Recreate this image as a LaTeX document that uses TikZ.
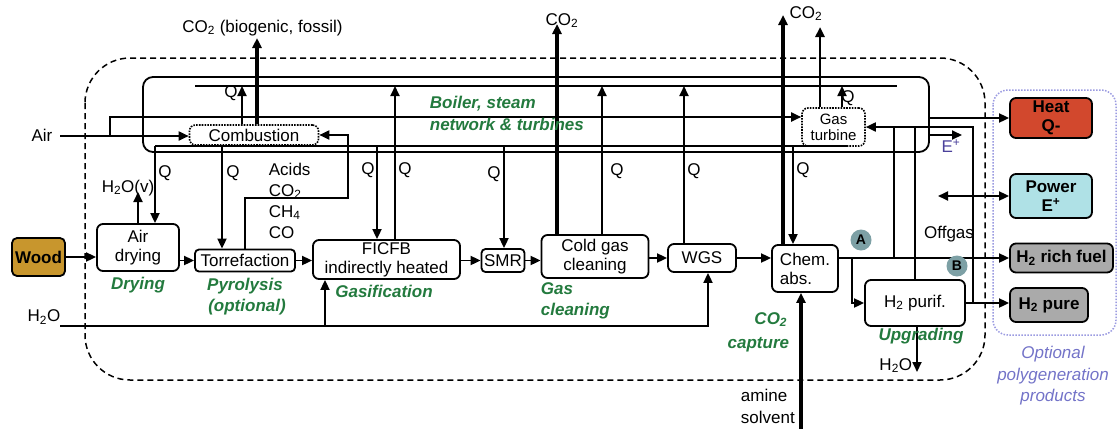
\documentclass[tikz,border=0pt]{standalone}
\usepackage{fontspec}
\setmainfont{Liberation Sans}
\usetikzlibrary{arrows.meta,calc}
\definecolor{grn}{RGB}{35,122,62}
\definecolor{woodc}{RGB}{200,150,45}
\definecolor{heatc}{RGB}{210,72,45}
\definecolor{powc}{RGB}{175,225,230}
\definecolor{hyc}{RGB}{170,170,170}
\definecolor{circc}{RGB}{125,160,165}
\definecolor{lav}{RGB}{155,155,225}
\definecolor{lavt}{RGB}{115,115,200}
\definecolor{eplc}{RGB}{75,65,155}
\newcommand\fsA{\fontsize{17}{19}\selectfont}
\newcommand\fsB{\fontsize{15}{16}\selectfont}
\tikzset{
  box/.style={draw, line width=1.8pt, rounded corners=6pt, align=center, inner sep=0pt, font=\fsA, fill=white},
  dbox/.style={box, dash pattern=on 1.6pt off 1.2pt, line width=1.6pt},
  prod/.style={box, font=\fsA\bfseries},
  lab/.style={font=\fsA, inner sep=0pt},
  glab/.style={font=\fsA\bfseries\itshape, text=grn, inner sep=0pt},
  thk/.style={line width=3.6pt},
  circ/.style={circle, fill=circc, minimum size=21pt, inner sep=0pt, font=\fontsize{14}{14}\selectfont\bfseries}
}
\begin{document}
\begin{tikzpicture}[x=1pt,y=-1pt, line width=1.8pt, >={Triangle[length=10pt,width=9pt]}]
\useasboundingbox (0,0) rectangle (1118,429);
% outer dashed boundary
\draw[dash pattern=on 6pt off 4pt, line width=1.5pt, rounded corners=45pt] (85,58) rectangle (985,380);
% polygeneration area
\draw[lav, dash pattern=on 1.5pt off 1.5pt, line width=1.5pt, rounded corners=15pt] (993,90) rectangle (1116,335);
% boiler
\node[draw, line width=1.8pt, rounded corners=10pt, minimum width=786, minimum height=75, inner sep=0pt] (boiler) at (536,114.5) {};

% process boxes
\node[box, fill=woodc, font=\fsA\bfseries, rounded corners=5pt, minimum width=53, minimum height=38] (wood) at (38.5,257) {Wood};
\node[box, minimum width=82, minimum height=47] (airdry) at (138,247.5) {Air\\drying};
\node[box, minimum width=100, minimum height=22, rounded corners=4pt] (torr) at (245,260.5) {Torrefaction};
\node[box, minimum width=147, minimum height=39] (ficfb) at (386.5,259.5) {FICFB\\indirectly heated};
\node[box, minimum width=43, minimum height=23, rounded corners=4pt] (smr) at (503,260.5) {SMR};
\node[box, minimum width=107, minimum height=43] (cold) at (595,256.5) {Cold gas\\cleaning};
\node[box, minimum width=68, minimum height=28] (wgs) at (702,258) {WGS};
\node[box, minimum width=66, minimum height=47, align=left] (chem) at (805,268.5) {Chem.\\abs.};
\node[box, minimum width=100, minimum height=46] (h2pur) at (915,303) {H\textsubscript{2} purif.};
\node[dbox, minimum width=129, minimum height=20] (comb) at (254,135) {Combustion};
\node[dbox, minimum width=63, minimum height=38, font=\fsB] (gt) at (833.5,127) {Gas\\turbine};

% products
\node[prod, fill=heatc, minimum width=82, minimum height=40] (heat) at (1051,118) {Heat\\Q-};
\node[prod, fill=powc, minimum width=82, minimum height=44] (power) at (1051,196) {Power\\E\textsuperscript{+}};
\node[prod, fill=hyc, minimum width=103, minimum height=29] (h2rich) at (1061.5,258) {H\textsubscript{2} rich fuel};
\node[prod, fill=hyc, minimum width=78, minimum height=34] (h2pure) at (1049,305) {H\textsubscript{2} pure};

% heat lines inside boiler
\coordinate (qup) at (195,86); \coordinate (qupe) at (897,86);
\draw (qup) -- (qupe);
\coordinate (qdn) at (155,146); \coordinate (qdne) at (847,146);
\draw (qdn) -- (qdne);

% Q down arrows
\coordinate (qd1) at (155,146); \coordinate (qd2) at (222,146);
\coordinate (qd3) at (377,146); \coordinate (qd4) at (504,146);
\coordinate (qd5) at (793,146);
\draw[->] (qd1) -- (qd1 |- airdry.north);
\draw[->] (qd2) -- (qd2 |- torr.north);
\draw[->] (qd3) -- (qd3 |- ficfb.north);
\draw[->] (qd4) -- (qd4 |- smr.north);
\draw[->] (qd5) -- (qd5 |- chem.north);

% Q up arrows
\coordinate (qu1) at (242,86); \coordinate (qu2) at (395,86);
\coordinate (qu3) at (602,86); \coordinate (qu4) at (684,86);
\coordinate (qu5) at (842,86);
\draw[->] (qu1 |- comb.north) -- (qu1);
\draw[->] (qu2 |- ficfb.north) -- (qu2);
\draw[->] (qu3 |- cold.north) -- (qu3);
\draw[->] (qu4 |- wgs.north) -- (qu4);
\draw[->] (qu5 |- gt.north) -- (qu5);

% CO2 arrows
\coordinate (c1) at (257,38); \coordinate (c2) at (557,24);
\coordinate (c3) at (783,15); \coordinate (c4) at (820,27);
\draw[->, thk] (c1 |- comb.north) -- (c1);
\draw[->, thk] (c2 |- cold.north) -- (c2);
\draw[->, thk] (c3 |- chem.north) -- (c3);
\draw[->, line width=2.6pt] (c4 |- gt.north) -- (c4);

% air
\coordinate (airin) at (60,136); \coordinate (ak) at (110,117);
\draw[->] (airin) -- (airin -| comb.west);
\draw[->] (airin -| ak) -- (ak) -- (ak -| gt.west);

% recycle of pyrolysis gases
\coordinate (rc) at (348,198);
\draw[->] (torr.north) |- (rc) |- (comb.east);

% main chain
\draw[->] (wood.east) -- (wood.east -| airdry.west);
\draw[->] (airdry.east |- torr.west) -- (torr.west);
\draw[->] (torr.east) -- (torr.east -| ficfb.west);
\draw[->] (ficfb.east |- smr.west) -- (smr.west);
\draw[->] (smr.east) -- (smr.east -| cold.west);
\draw[->] (cold.east |- wgs.west) -- (wgs.west);
\draw[->] (wgs.east) -- (wgs.east -| chem.west);

% vapour
\coordinate (hv) at (138,192);
\draw[->] (hv |- airdry.north) -- (hv);

% water
\coordinate (wi) at (60,326); \coordinate (wb) at (325,326); \coordinate (ww) at (708,326);
\draw[->] (wi) -- (ww) -- (ww |- wgs.south);
\draw[->] (wb) -- (wb |- ficfb.south);

% amine
\coordinate (am) at (801,429);
\draw[->, thk] (am) -- (am |- chem.south);

% upgrading
\draw[->] (chem.east |- h2rich.west) -- (h2rich.west);
\coordinate (ba) at (852,258);
\draw[->] (ba) |- (h2pur.west);
\draw[->] (h2pur.east) -- (h2pur.east -| h2pure.west);
\coordinate (og) at (973,127); \coordinate (oa) at (894,127);
\draw[->] (og |- h2pur.east) -- (og) -- (gt.east);
\draw (oa |- h2rich.west) -- (oa);
\draw (h2pur.north) -- (h2pur.north |- og);
\coordinate (hw) at (917,372);
\draw[->] (hw |- h2pur.south) -- (hw);

% outputs
\draw[->] (boiler.east |- heat.west) -- (heat.west);
\coordinate (ep) at (962,135);
\draw[->] (ep -| boiler.east) -- (ep);
\coordinate (pw) at (938,196);
\draw[<->] (pw) -- (pw -| power.west);

% circles
\node[circ] (ca) at (861,240) {A};
\node[circ] (cb) at (957,266) {B};

% labels
\node[lab, anchor=base] (lco1) at (262.5,32) {CO\textsubscript{2} (biogenic, fossil)};
\node[lab, anchor=base] (lco2) at (562,25) {CO\textsubscript{2}};
\node[lab, anchor=base] (lco3) at (806,18) {CO\textsubscript{2}};
\node[lab] (lair) at (42,135) {Air};
\node[lab] (lh2o) at (44,317) {H\textsubscript{2}O};
\node[lab, anchor=base] (lhv) at (128,192) {H\textsubscript{2}O(v)};
\node[lab, anchor=base west] (la1) at (268,175) {Acids};
\node[lab, anchor=base west] (la2) at (268,196) {CO\textsubscript{2}};
\node[lab, anchor=base west] (la3) at (268,217) {CH\textsubscript{4}};
\node[lab, anchor=base west] (la4) at (268,238) {CO};
\node[lab] (q1) at (231,93) {Q};
\node[lab] (q2) at (165,173) {Q};
\node[lab] (q3) at (233,173) {Q};
\node[lab] (q4) at (368,170) {Q};
\node[lab] (q5) at (405,170) {Q};
\node[lab] (q6) at (494,174) {Q};
\node[lab] (q7) at (617,171) {Q};
\node[lab] (q8) at (694,171) {Q};
\node[lab] (q9) at (848,98) {Q};
\node[lab] (q10) at (803,170) {Q};
\node[lab, text=eplc] (lep) at (951,146) {E\textsuperscript{+}};
\node[lab, anchor=base] (loff) at (949,238) {Offgas};
\node[lab, anchor=base east] (lhw) at (913,370) {H\textsubscript{2}O};
\node[lab, anchor=base west] (lam1) at (740,401) {amine};
\node[lab, anchor=base west] (lam2) at (740,423) {solvent};

% green stage labels
\node[glab, anchor=base west] (gb1) at (429,108) {Boiler, steam};
\node[glab, anchor=base west] (gb2) at (429,130) {network \& turbines};
\node[glab, anchor=base] (gdry) at (138,289) {Drying};
\node[glab, anchor=base] (gpy1) at (245,290) {Pyrolysis};
\node[glab, anchor=base] (gpy2) at (247,311) {(optional)};
\node[glab, anchor=base] (ggas) at (384,297) {Gasification};
\node[glab, anchor=base west] (gcl1) at (540,294) {Gas};
\node[glab, anchor=base west] (gcl2) at (540,315) {cleaning};
\node[glab, anchor=base east] (gcc1) at (788,324) {CO\textsubscript{2}};
\node[glab, anchor=base east] (gcc2) at (790,348) {capture};
\node[glab, anchor=base] (gup) at (921,340) {Upgrading};

% polygeneration label
\node[lab, font=\fsA\itshape, text=lavt, anchor=base] (lp1) at (1053,358) {Optional};
\node[lab, font=\fsA\itshape, text=lavt, anchor=base] (lp2) at (1053,380) {polygeneration};
\node[lab, font=\fsA\itshape, text=lavt, anchor=base] (lp3) at (1053,401) {products};
\end{tikzpicture}
\end{document}
